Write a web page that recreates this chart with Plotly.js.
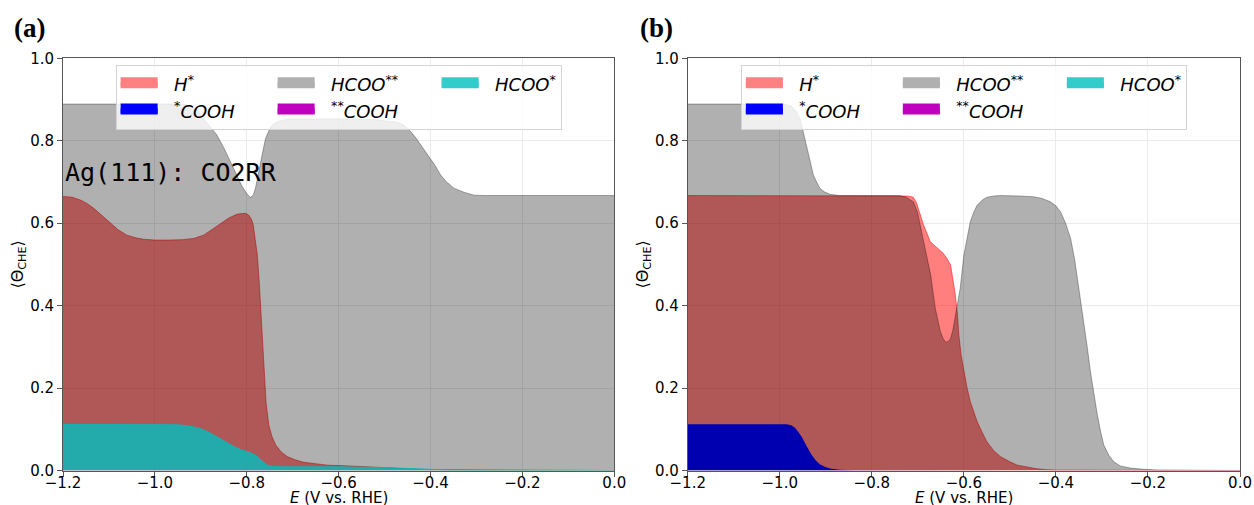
<!DOCTYPE html>
<html>
<head>
<meta charset="utf-8">
<script src="https://cdn.plot.ly/plotly-3.0.1.min.js"></script>
<style>
html,body{margin:0;padding:0;background:#ffffff;}
#chart{width:1254px;height:505px;}
</style>
</head>
<body>
<div id="chart"></div>
<script>
// ---------------- data: panel (a) Ag(111) ----------------
const agE_H = [-1.2, -1.18, -1.162, -1.148, -1.133, -1.115, -1.097, -1.08, -1.061, -1.04, -1.024, -1.0, -0.97, -0.94, -0.915, -0.894, -0.875, -0.857, -0.84, -0.821, -0.81, -0.803, -0.796, -0.790, -0.786, -0.781, -0.777, -0.773, -0.770, -0.766, -0.763, -0.758, -0.752, -0.745, -0.737, -0.725, -0.712, -0.695, -0.676, -0.65, -0.625, -0.6, -0.55, -0.5, -0.45, -0.4, 0.0];
const agH = [0.665, 0.663, 0.656, 0.648, 0.636, 0.618, 0.600, 0.584, 0.571, 0.564, 0.561, 0.559, 0.559, 0.560, 0.563, 0.571, 0.585, 0.600, 0.612, 0.622, 0.624, 0.624, 0.620, 0.610, 0.596, 0.560, 0.523, 0.460, 0.401, 0.320, 0.240, 0.165, 0.110, 0.082, 0.062, 0.045, 0.034, 0.026, 0.020, 0.016, 0.013, 0.012, 0.010, 0.007, 0.004, 0.002, 0.0];

const agE_COOH1 = [-1.2, 0.0];
const agCOOH1 = [0.0, 0.0];

const agE_HCOO2 = [-1.2, -0.94, -0.925, -0.908, -0.894, -0.88, -0.865, -0.85, -0.835, -0.822, -0.81, -0.80, -0.792, -0.786, -0.781, -0.775, -0.770, -0.764, -0.759, -0.753, -0.748, -0.74, -0.73, -0.71, -0.60, -0.52, -0.49, -0.472, -0.458, -0.443, -0.432, -0.421, -0.41, -0.40, -0.39, -0.378, -0.365, -0.349, -0.327, -0.305, -0.28, 0.0];
const agHCOO2 = [0.889, 0.889, 0.885, 0.875, 0.854, 0.836, 0.814, 0.783, 0.749, 0.718, 0.689, 0.672, 0.662, 0.668, 0.685, 0.718, 0.749, 0.780, 0.806, 0.824, 0.834, 0.842, 0.848, 0.853, 0.853, 0.851, 0.848, 0.845, 0.838, 0.822, 0.807, 0.790, 0.773, 0.757, 0.740, 0.717, 0.700, 0.685, 0.675, 0.668, 0.667, 0.667];

const agE_COOH2 = [-1.2, 0.0];
const agCOOH2 = [0.0, 0.0];

const agE_HCOO1 = [-1.2, -0.97, -0.952, -0.93, -0.915, -0.901, -0.883, -0.864, -0.846, -0.828, -0.812, -0.799, -0.788, -0.777, -0.766, -0.756, -0.748, -0.741, -0.72, -0.6, -0.5, -0.45, -0.40, -0.36, -0.33, 0.0];
const agHCOO1 = [0.112, 0.112, 0.111, 0.109, 0.106, 0.102, 0.093, 0.082, 0.070, 0.058, 0.050, 0.046, 0.041, 0.034, 0.022, 0.013, 0.011, 0.010, 0.009, 0.009, 0.007, 0.005, 0.002, 0.001, 0.0, 0.0];

// ---------------- data: panel (b) Au(111) ----------------
const auE_H = [-1.2, -0.74, -0.725, -0.717, -0.710, -0.703, -0.695, -0.688, -0.680, -0.673, -0.665, -0.658, -0.652, -0.645, -0.637, -0.629, -0.624, -0.619, -0.614, -0.611, -0.606, -0.600, -0.593, -0.586, -0.578, -0.571, -0.56, -0.55, -0.535, -0.521, -0.50, -0.484, -0.46, -0.441, -0.42, -0.40, 0.0];
const auH = [0.667, 0.667, 0.666, 0.665, 0.663, 0.650, 0.620, 0.597, 0.575, 0.555, 0.547, 0.540, 0.535, 0.527, 0.515, 0.499, 0.465, 0.430, 0.380, 0.330, 0.280, 0.240, 0.200, 0.167, 0.140, 0.118, 0.092, 0.070, 0.048, 0.034, 0.021, 0.013, 0.008, 0.004, 0.002, 0.001, 0.0];

const auE_COOH1 = [-1.2, -0.985, -0.975, -0.967, -0.960, -0.952, -0.945, -0.938, -0.931, -0.922, -0.913, -0.902, -0.891, -0.87, -0.84, 0.0];
const auCOOH1 = [0.112, 0.112, 0.110, 0.104, 0.094, 0.081, 0.066, 0.052, 0.038, 0.025, 0.015, 0.009, 0.005, 0.002, 0.0005, 0.0];

const auE_HCOO2 = [-1.2, -0.99, -0.975, -0.963, -0.955, -0.949, -0.943, -0.938, -0.932, -0.927, -0.92, -0.913, -0.903, -0.891, -0.87, -0.80, -0.74, -0.725, -0.71, -0.701, -0.694, -0.687, -0.680, -0.672, -0.667, -0.662, -0.656, -0.651, -0.645, -0.640, -0.635, -0.629, -0.624, -0.619, -0.613, -0.608, -0.600, -0.593, -0.586, -0.578, -0.571, -0.56, -0.55, -0.535, -0.521, -0.48, -0.448, -0.43, -0.412, -0.40, -0.39, -0.379, -0.368, -0.359, -0.35, -0.339, -0.332, -0.325, -0.318, -0.31, -0.303, -0.296, -0.285, -0.274, -0.26, -0.238, -0.21, -0.18, 0.0];
const auHCOO2 = [0.889, 0.889, 0.884, 0.870, 0.850, 0.822, 0.795, 0.765, 0.740, 0.717, 0.700, 0.685, 0.676, 0.670, 0.667, 0.667, 0.667, 0.663, 0.652, 0.628, 0.592, 0.555, 0.515, 0.474, 0.433, 0.393, 0.362, 0.337, 0.320, 0.312, 0.312, 0.320, 0.340, 0.369, 0.405, 0.442, 0.523, 0.565, 0.604, 0.628, 0.644, 0.656, 0.663, 0.666, 0.667, 0.666, 0.664, 0.660, 0.652, 0.642, 0.628, 0.600, 0.563, 0.510, 0.442, 0.361, 0.300, 0.240, 0.185, 0.135, 0.095, 0.062, 0.037, 0.021, 0.011, 0.006, 0.003, 0.001, 0.0];

const auE_COOH2 = [-1.2, 0.0];
const auCOOH2 = [0.0, 0.0];

const auE_HCOO1 = [-1.2, 0.0];
const auHCOO1 = [0.0, 0.0];

// ---------------- labels ----------------
const speciesNames = ['<i>H</i><sup>*</sup>', '<sup>*</sup><i>COOH</i>', '<i>HCOO</i><sup>**</sup>', '<sup>**</sup><i>COOH</i>', '<i>HCOO</i><sup>*</sup>'];
const panelTexts = ['Ag(111): CO2RR', 'Au(111): CO2RR'];
const panelLetters = ['(a)', '(b)'];
const xTitle = '<i>E</i> (V vs. RHE)';
const yTitle = '\u27e8\u0398<sub>CHE</sub>\u27e9';

// ---------------- styles ----------------
const fillColors = ['rgba(255,0,0,0.5)', 'rgba(0,0,255,1)', 'rgba(0,0,0,0.31)', 'rgba(191,0,191,1)', 'rgba(0,191,191,0.8)'];
const edgeWidths = [1, 0, 1, 0, 1];
const legendColors = ['#ff8080', '#0000ff', '#b0b0b0', '#bf00bf', '#33cccc'];
const legendCols = [1, 1, 2, 2, 3];
const legendWidths = {1: 105, 2: 112, 3: 72};

const panels = [
  {xa: 'x', ya: 'y', legend: 'legend', tag: 'a',
   series: [[agE_H, agH], [agE_COOH1, agCOOH1], [agE_HCOO2, agHCOO2], [agE_COOH2, agCOOH2], [agE_HCOO1, agHCOO1]]},
  {xa: 'x2', ya: 'y2', legend: 'legend2', tag: 'b',
   series: [[auE_H, auH], [auE_COOH1, auCOOH1], [auE_HCOO2, auHCOO2], [auE_COOH2, auCOOH2], [auE_HCOO1, auHCOO1]]}
];

const traces = [];
panels.forEach(p => {
  p.series.forEach((s, i) => {
    const empty = Math.max.apply(null, s[1]) <= 0;
    traces.push({
      type: 'scatter', mode: 'lines', x: s[0], y: s[1],
      xaxis: p.xa, yaxis: p.ya, fill: 'tozeroy',
      fillcolor: fillColors[i],
      line: {color: fillColors[i], width: empty ? 0 : edgeWidths[i]},
      legendgroup: p.tag + legendCols[i], showlegend: false, hoverinfo: 'skip'
    });
  });
  // legend entries
  speciesNames.forEach((name, i) => {
    traces.push({
      type: 'scatter', mode: 'lines', x: [null], y: [null],
      xaxis: p.xa, yaxis: p.ya, fill: 'tozeroy', fillcolor: legendColors[i],
      line: {color: legendColors[i], width: 10},
      name: '\u00a0\u00a0' + name, legend: p.legend,
      legendgroup: p.tag + legendCols[i], legendwidth: legendWidths[legendCols[i]],
      showlegend: true, hoverinfo: 'skip'
    });
  });
});

// ---------------- geometry (pixels of the 1254x505 figure) ----------------
const W = 1254, H = 505;
const ML = 62.5, MR = 14, MT = 0, MB = 0;
const GW = W - ML - MR, GH = H - MT - MB;
const px2paperX = px => (px - ML) / GW;
const px2paperY = py => (H - MB - py) / GH;
const xdomA = [px2paperX(62.5), px2paperX(614)];
const xdomB = [px2paperX(687.5), px2paperX(1240)];
const ydom = [px2paperY(470.5), px2paperY(58.3)];

const tickFont = {family: 'DejaVu Sans', size: 15, color: '#000'};
function xAxis(dom, anchor) {
  return {
    domain: dom, anchor: anchor, range: [-1.2, 0], dtick: 0.2, tick0: 0, tickformat: '.1f',
    showgrid: true, gridcolor: '#ebebeb', gridwidth: 1, zeroline: false,
    showline: true, linecolor: '#555', linewidth: 1, mirror: true,
    ticks: 'outside', ticklen: 5, tickwidth: 1, tickcolor: '#555',
    tickfont: tickFont, ticklabelstandoff: -7, automargin: true
  };
}
function yAxis(anchor) {
  return {
    domain: ydom, anchor: anchor, range: [0, 1], dtick: 0.2, tick0: 0, tickformat: '.1f',
    showgrid: true, gridcolor: '#ebebeb', gridwidth: 1, zeroline: false,
    showline: true, linecolor: '#555', linewidth: 1, mirror: true,
    ticks: 'outside', ticklen: 5, tickwidth: 1, tickcolor: '#555',
    tickfont: tickFont, automargin: true,
    title: {text: yTitle, font: {family: 'DejaVu Sans', size: 16, color: '#000'}, standoff: 2}
  };
}
function legendCfg(cxPx) {
  return {
    orientation: 'h', traceorder: 'grouped', x: px2paperX(cxPx), xanchor: 'center', xref: 'paper',
    y: px2paperY(65), yanchor: 'top', yref: 'paper',
    bgcolor: 'rgba(255,255,255,0.8)', bordercolor: '#d4d4d4', borderwidth: 1,
    font: {family: 'DejaVu Sans', size: 18, color: '#000'},
    itemwidth: 37, itemclick: false, itemdoubleclick: false
  };
}
const xTitleFont = {family: 'DejaVu Sans', size: 15, color: '#000'};

const layout = {
  width: W, height: H,
  margin: {l: ML, r: MR, t: MT, b: MB, pad: 0, autoexpand: false},
  paper_bgcolor: '#ffffff', plot_bgcolor: '#ffffff',
  showlegend: true,
  xaxis: xAxis(xdomA, 'y'),
  yaxis: yAxis('x'),
  xaxis2: xAxis(xdomB, 'y2'),
  yaxis2: yAxis('x2'),
  legend: legendCfg((62.5 + 614) / 2),
  legend2: legendCfg((687.5 + 1240) / 2),
  annotations: [
    {xref: 'x', yref: 'y', x: -1.199, y: 0.722, xanchor: 'left', yanchor: 'middle', showarrow: false,
     text: panelTexts[0], font: {family: 'DejaVu Sans Mono', size: 25, color: '#000'}},
    {xref: 'x2', yref: 'y2', x: -1.201, y: 0.722, xanchor: 'left', yanchor: 'middle', showarrow: false,
     text: panelTexts[1], font: {family: 'DejaVu Sans Mono', size: 25, color: '#000'}},
    {xref: 'x domain', yref: 'paper', x: 0.5, y: px2paperY(498), xanchor: 'center', yanchor: 'middle', showarrow: false,
     text: xTitle, font: xTitleFont},
    {xref: 'x2 domain', yref: 'paper', x: 0.5, y: px2paperY(498), xanchor: 'center', yanchor: 'middle', showarrow: false,
     text: xTitle, font: xTitleFont},
    {xref: 'paper', yref: 'paper', x: px2paperX(11), y: px2paperY(28), xanchor: 'left', yanchor: 'middle', showarrow: false,
     text: '<b>' + panelLetters[0] + '</b>', font: {family: 'Liberation Serif', size: 27, color: '#000'}},
    {xref: 'paper', yref: 'paper', x: px2paperX(638), y: px2paperY(28), xanchor: 'left', yanchor: 'middle', showarrow: false,
     text: '<b>' + panelLetters[1] + '</b>', font: {family: 'Liberation Serif', size: 27, color: '#000'}}
  ]
};

Plotly.newPlot('chart', traces, layout, {displayModeBar: false, staticPlot: true});
</script>
</body>
</html>
